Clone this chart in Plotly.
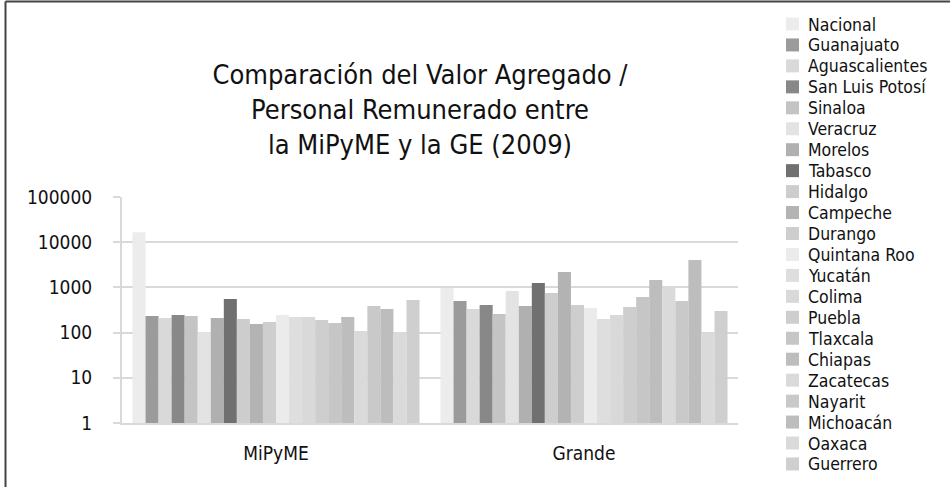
import plotly.graph_objects as go

categories = ["MiPyME", "Grande"]

states = ["Nacional", "Guanajuato", "Aguascalientes", "San Luis Potosí", "Sinaloa",
          "Veracruz", "Morelos", "Tabasco", "Hidalgo", "Campeche", "Durango",
          "Quintana Roo", "Yucatán", "Colima", "Puebla", "Tlaxcala", "Chiapas",
          "Zacatecas", "Nayarit", "Michoacán", "Oaxaca", "Guerrero"]

mipyme = [16500, 233, 210, 245, 233, 103, 210, 554, 200, 155, 171,
          245, 221, 221, 190, 163, 221, 108, 388, 333, 103, 527]

grande = [970, 500, 333, 408, 258, 832, 388, 1250, 752, 2190, 408,
          350, 200, 245, 368, 613, 1458, 1020, 500, 4040, 98, 300]

colors = ["#ececec", "#9b9b9b", "#d9d9d9", "#888888", "#c4c4c4", "#e3e3e3",
          "#b0b0b0", "#707070", "#cdcdcd", "#b3b3b3", "#cecece", "#ebebeb",
          "#dedede", "#d9d9d9", "#cecece", "#c6c6c6", "#bdbdbd", "#dadada",
          "#c9c9c9", "#bdbdbd", "#dadada", "#cfcfcf"]

tick_vals = [1, 10, 100, 1000, 10000, 100000]
tick_text = ["1", "10", "100", "1000", "10000", "100000"]

FONT = "DejaVu Sans Condensed, Liberation Sans Narrow, Arial Narrow, sans-serif"

W, H = 950, 487
L, R, T, B = 122, 212, 197, 64
PW, PH = W - L - R, H - T - B


def px_x(x):
    return (x - L) / PW


def px_y(y):
    return (H - B - y) / PH


fig = go.Figure()
for name, a, b, c in zip(states, mipyme, grande, colors):
    fig.add_trace(go.Bar(name=name, x=categories, y=[a, b],
                         marker=dict(color=c, line=dict(width=0)),
                         showlegend=False))

# manual legend (tight line spacing as in the reference)
shapes = []
annotations = []
y0, step = 24, 20.95
for i, (name, c) in enumerate(zip(states, colors)):
    yc = y0 + i * step
    shapes.append(dict(type="rect", xref="paper", yref="paper",
                       x0=px_x(786), x1=px_x(799),
                       y0=px_y(yc + 6.5), y1=px_y(yc - 6.5),
                       fillcolor=c, line=dict(width=0)))
    annotations.append(dict(text=name, xref="paper", yref="paper",
                            x=px_x(806), y=px_y(yc + 0.5), xanchor="left",
                            yanchor="middle", showarrow=False,
                            font=dict(family=FONT, size=17.5, color="#111111")))

# outer frame (top and left edges)
shapes.append(dict(type="line", xref="paper", yref="paper",
                   x0=px_x(5.5), x1=px_x(950), y0=px_y(1.5), y1=px_y(1.5),
                   line=dict(color="#444444", width=2)))
shapes.append(dict(type="line", xref="paper", yref="paper",
                   x0=px_x(5.5), x1=px_x(5.5), y0=px_y(1.5), y1=px_y(487),
                   line=dict(color="#444444", width=2)))

fig.update_layout(
    width=W, height=H,
    margin=dict(l=L, r=R, t=T, b=B),
    paper_bgcolor="white", plot_bgcolor="white",
    barmode="group", bargap=0.068, bargroupgap=0,
    title=dict(text="Comparación del Valor Agregado /<br>Personal Remunerado entre<br>la MiPyME y la GE (2009)",
               x=420 / W, xanchor="center", xref="container",
               y=1 - 84 / H, yanchor="top", yref="container",
               font=dict(family=FONT, size=27, color="#111111")),
    xaxis=dict(showline=True, linecolor="#d9d9d9", linewidth=2,
               ticks="", tickfont=dict(family=FONT, size=19, color="#111111"),
               ticklabelstandoff=12, showgrid=False),
    yaxis=dict(type="log", range=[0, 5], tickvals=tick_vals, ticktext=tick_text,
               showline=True, linecolor="#d9d9d9", linewidth=2,
               ticks="outside", ticklen=7, tickcolor="#d9d9d9", tickwidth=2,
               showgrid=True, gridcolor="#d9d9d9", gridwidth=2,
               tickfont=dict(family=FONT, size=19, color="#111111"),
               ticklabelstandoff=17, zeroline=False),
    shapes=shapes,
    annotations=annotations,
    font=dict(family=FONT),
)

fig.write_html("out.html", config={"displayModeBar": False},
               post_script="document.body.style.margin='0px';")
